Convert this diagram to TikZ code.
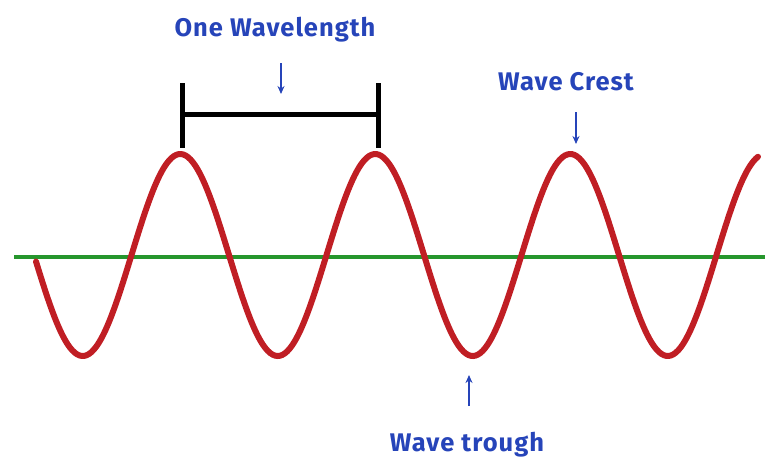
\documentclass[tikz,border=0pt]{standalone}
\usepackage{fontspec}
\setmainfont{Fira Sans}
\newfontfamily\lblfont[LetterSpace=4]{Fira Sans}
\usetikzlibrary{arrows.meta}
\definecolor{wblue}{RGB}{38,68,185}
\definecolor{wred}{RGB}{192,30,36}
\definecolor{wgreen}{RGB}{38,150,45}
\tikzset{
  lbl/.style={text=wblue, font=\lblfont\fontsize{25.5}{28}\selectfont\bfseries, inner sep=0pt, anchor=base},
  pointer/.style={draw=wblue, line width=2pt, -{Stealth[length=8pt,width=7pt]}},
  bracket/.style={draw=black, line width=5pt},
  axisline/.style={draw=wgreen, line width=4pt},
  wave/.style={draw=wred, line width=6pt, line cap=round}
}
\begin{document}
\begin{tikzpicture}[x=1pt,y=-1pt]
\useasboundingbox (0,0) rectangle (765,463);
% axis
\coordinate (gl) at (14,257);
\coordinate (gr) at (765,257);
\draw[axisline] (gl) -- (gr);
% wave
\draw[wave, domain=36:758, samples=300, smooth] plot (\x, {255+101*sin(((\x-34)/195)*360)});
% bracket
\coordinate (bl) at (182,114);
\coordinate (br) at (378,114);
\coordinate (blt) at (182,83);
\coordinate (blb) at (182,148);
\coordinate (brt) at (378,83);
\coordinate (brb) at (378,148);
\draw[bracket] (bl) -- (br);
\draw[bracket] (blt) -- (blb);
\draw[bracket] (brt) -- (brb);
% labels
\node[lbl] (wl) at (275,36) {One Wavelength};
\node[lbl] (wc) at (566,90) {Wave Crest};
\node[lbl] (wt) at (467,451) {Wave trough};
% arrows
\coordinate (a1s) at (281,63);
\coordinate (a1e) at (281,94);
\coordinate (a2s) at (576,112);
\coordinate (a2e) at (576,144);
\coordinate (a3s) at (469,406);
\coordinate (a3e) at (469,375);
\draw[pointer] (a1s) -- (a1e);
\draw[pointer] (a2s) -- (a2e);
\draw[pointer] (a3s) -- (a3e);
\end{tikzpicture}
\end{document}
